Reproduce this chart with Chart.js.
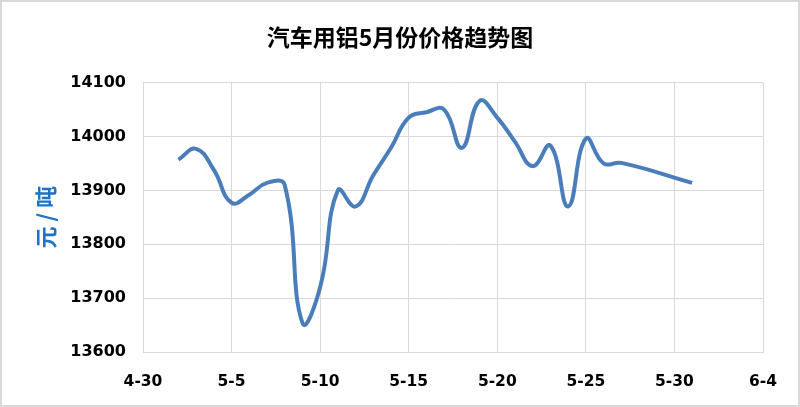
<!DOCTYPE html>
<html>
<head>
<meta charset="utf-8">
<script src="https://cdn.jsdelivr.net/npm/chart.js@4/dist/chart.umd.min.js"></script>
<style>
  html, body { margin: 0; padding: 0; background: #fff; }
  #wrap { width: 800px; height: 407px; }
</style>
</head>
<body>
<div id="wrap"><canvas id="priceChart" width="800" height="407"></canvas></div>
<script>
// dias contados desde 4-30 (dia 0)
const days = [2, 3, 4, 5, 6, 7, 8, 9, 10, 11, 12, 13, 14, 15, 16, 17, 18, 19, 20, 21, 22, 23, 24, 25, 26, 27, 31];
const prices = [13957, 13977, 13938, 13877, 13892, 13914, 13910, 13654, 13720, 13900, 13870, 13928, 13979,
  14035, 14045, 14050, 13979, 14066, 14035, 13990, 13945, 13983, 13870, 13996, 13950, 13951, 13914];
const xTickLabels = ['4-30', '5-5', '5-10', '5-15', '5-20', '5-25', '5-30', '6-4'];
const yTicks = [13600, 13700, 13800, 13900, 14000, 14100];

const points = days.map((d, i) => ({ x: d, y: prices[i] }));

// fondo blanco y borde gris alrededor
const frame = {
  id: 'frame',
  beforeDraw(chart) {
    const c = chart.ctx;
    c.save();
    c.fillStyle = '#ffffff';
    c.fillRect(0, 0, chart.width, chart.height);
    c.strokeStyle = '#d9d9d9';
    c.lineWidth = 2;
    c.strokeRect(1, 1, chart.width - 2, chart.height - 2);
    c.restore();
  }
};

const ctx = document.getElementById('priceChart').getContext('2d');
const chart = new Chart(ctx, {
  type: 'line',
  data: {
    datasets: [{
      label: '价格',
      data: points,
      borderColor: '#4a7ebb',
      borderWidth: 4,
      fill: false,
      pointRadius: 0,
      tension: 0.45
    }]
  },
  options: {
    responsive: false,
    animation: false,
    layout: { padding: 0 },
    plugins: {
      legend: { display: false },
      tooltip: { enabled: false },
      title: {
        display: true,
        text: '汽车用铝5月份价格趋势图',
        color: '#000',
        font: { family: '"Noto Sans CJK SC"', size: 23, weight: 'bold' },
        padding: { top: 23, bottom: 32 }
      }
    },
    scales: {
      x: {
        type: 'linear',
        min: 0,
        max: 35,
        afterBuildTicks: (axis) => {
          axis.ticks = xTickLabels.map((t, i) => ({ value: i * 5 }));
        },
        ticks: {
          callback: (v) => xTickLabels[v / 5],
          color: '#000',
          font: { family: '"DejaVu Sans"', size: 15.5, weight: 'bold' },
          padding: 21,
          maxRotation: 0
        },
        grid: { color: '#d9d9d9', lineWidth: 1, drawTicks: false },
        border: { color: '#d9d9d9' },
        afterFit: (axis) => { axis.height = 55; }
      },
      y: {
        min: 13600,
        max: 14100,
        afterBuildTicks: (axis) => {
          axis.ticks = yTicks.map(v => ({ value: v }));
        },
        ticks: {
          callback: (v) => String(v),
          color: '#000',
          font: { family: '"DejaVu Sans"', size: 16, weight: 'bold' },
          padding: 17
        },
        grid: { color: '#d9d9d9', lineWidth: 1, drawTicks: false },
        border: { color: '#d9d9d9' },
        title: {
          display: true,
          text: '元 / 吨',
          color: '#1f72c4',
          font: { family: '"Noto Sans CJK SC"', size: 22, weight: 'bold' },
          padding: { top: 32, bottom: 0 }
        },
        afterFit: (axis) => { axis.width = 143; }
      },
      // eje vacio a la derecha, solo para dejar el margen
      yRight: {
        position: 'right',
        min: 13600,
        max: 14100,
        ticks: { display: false },
        grid: { display: false, drawTicks: false },
        border: { display: false },
        afterFit: (axis) => { axis.width = 37; }
      }
    }
  },
  plugins: [frame]
});
</script>
</body>
</html>
